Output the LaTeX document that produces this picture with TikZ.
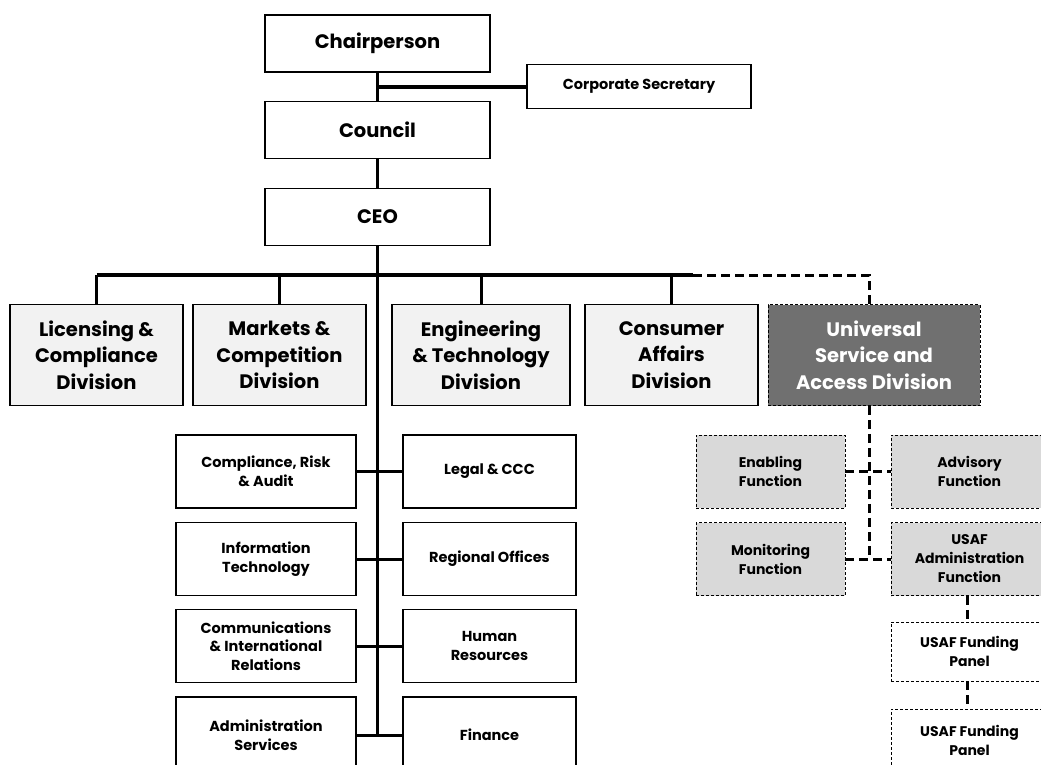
\documentclass[tikz,border=0pt]{standalone}
\usepackage{fontspec}
\setmainfont{Poppins}
\usetikzlibrary{calc}
\definecolor{divfill}{HTML}{F2F2F2}
\definecolor{usafill}{HTML}{707070}
\definecolor{funfill}{HTML}{D9D9D9}
\tikzset{
  box/.style={draw=black, line width=1.6pt, fill=white, align=center, inner sep=2pt, font=\bfseries},
  topbox/.style={box, minimum width=225pt, minimum height=57pt, font=\bfseries\fontsize{19.5}{22}\selectfont},
  divbox/.style={box, fill=divfill, minimum height=101pt, font=\bfseries\fontsize{19.5}{26.5}\selectfont},
  smallbox/.style={box, minimum height=73pt, font=\bfseries\fontsize{14.5}{18.5}\selectfont},
  dbox/.style={draw=black, line width=0.9pt, dash pattern=on 3pt off 2pt, align=center, inner sep=2pt, minimum height=73pt, font=\bfseries\fontsize{14}{19}\selectfont},
  link/.style={line width=3pt},
  buslink/.style={line width=4pt},
  dlink/.style={line width=3pt, dash pattern=on 9pt off 5pt},
}
\begin{document}
\begin{tikzpicture}[x=1pt,y=-1pt]
\useasboundingbox (0,0) rectangle (1041,765);
% top
\node[topbox] (chair) at (377.5,43.5) {Chairperson};
\node[box, minimum width=224pt, minimum height=44pt, font=\bfseries\fontsize{14.5}{17}\selectfont] (sec) at (639,86.5) {Corporate Secretary};
\node[topbox] (council) at (377.5,130) {Council};
\node[topbox] (ceo) at (377.5,217) {CEO};
% divisions
\node[divbox, minimum width=173pt] (lic) at (96.5,355) {Licensing \&\\Compliance\\Division};
\node[divbox, minimum width=173pt] (mkt) at (279.5,355) {Markets \&\\Competition\\Division};
\node[divbox, minimum width=178pt] (eng) at (481,355) {Engineering\\\& Technology\\Division};
\node[divbox, minimum width=173pt] (con) at (671.5,355) {Consumer\\Affairs\\Division};
\node[divbox, fill=usafill, text=white, line width=0.9pt, dash pattern=on 3pt off 2pt, minimum width=212pt] (usa) at (874,355) {Universal\\Service and\\Access Division};
% support units
\node[smallbox, minimum width=180pt] (cra) at (266,471.5) {Compliance, Risk\\\& Audit};
\node[smallbox, minimum width=173pt] (leg) at (489.5,471.5) {Legal \& CCC};
\node[smallbox, minimum width=180pt] (it) at (266,559) {Information\\Technology};
\node[smallbox, minimum width=173pt] (reg) at (489.5,559) {Regional Offices};
\node[smallbox, minimum width=180pt] (com) at (266,646) {Communications\\\& International\\Relations};
\node[smallbox, minimum width=173pt] (hr) at (489.5,646) {Human\\Resources};
\node[smallbox, minimum width=180pt, minimum height=76pt] (adm) at (266,735) {Administration\\Services};
\node[smallbox, minimum width=173pt, minimum height=76pt] (fin) at (489.5,735) {Finance};
% functions
\node[dbox, fill=funfill, minimum width=149pt] (ena) at (770.5,471.5) {Enabling\\Function};
\node[dbox, fill=funfill, minimum width=157pt] (adv) at (969.5,471.5) {Advisory\\Function};
\node[dbox, fill=funfill, minimum width=149pt] (mon) at (770.5,559) {Monitoring\\Function};
\node[dbox, fill=funfill, minimum width=157pt] (uadm) at (969.5,559) {USAF\\Administration\\Function};
\node[dbox, fill=white, minimum width=157pt, minimum height=59pt] (p1) at (969.5,651.5) {USAF Funding\\Panel};
\node[dbox, fill=white, minimum width=157pt, minimum height=63pt] (p2) at (969.5,740.5) {USAF Funding\\Panel};
% coordinates
\coordinate (busy) at (0,275);
\coordinate (busend) at (693,275);
\coordinate (usax) at (869,0);
\coordinate (px) at (967,0);
\coordinate (secy) at (0,87);
% connectors
\draw[link] (chair.south) -- (council.north);
\draw[buslink] (chair.south |- secy) -- (sec.west |- secy);
\draw[link] (council.south) -- (ceo.north);
\draw[link] (ceo.south) -- (ceo.south |- fin.west);
\draw[buslink] (lic.north |- busy) -- (busend);
\draw[dlink] (busend) -- (usax |- busy) -- (usax |- usa.north);
\draw[link] (lic.north |- busy) -- (lic.north);
\draw[link] (mkt.north |- busy) -- (mkt.north);
\draw[link] (eng.north |- busy) -- (eng.north);
\draw[link] (con.north |- busy) -- (con.north);
\draw[link] (cra.east) -- (leg.west);
\draw[link] (it.east) -- (reg.west);
\draw[link] (com.east) -- (hr.west);
\draw[link] (adm.east |- fin.west) -- (fin.west);
\draw[dlink] (usax |- usa.south) -- (usax |- mon.east);
\draw[dlink] (ena.east) -- (adv.west);
\draw[dlink] (mon.east) -- (uadm.west);
\draw[dlink] (px |- uadm.south) -- (px |- p1.north);
\draw[dlink] (px |- p1.south) -- (px |- p2.north);
\end{tikzpicture}
\end{document}
